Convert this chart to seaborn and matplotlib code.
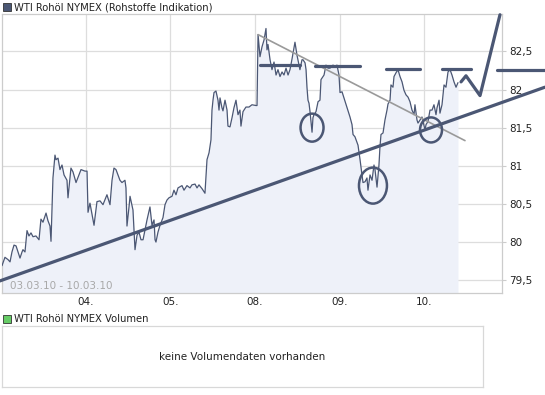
import numpy as np
import matplotlib
matplotlib.use('Agg')
import matplotlib.pyplot as plt
from matplotlib.patches import Rectangle, Ellipse
import seaborn as sns

# intraday prices, x in trading days (0 = 03.03., 1 = 04.03., ...)
t_03 = [0.006, 0.041, 0.077, 0.101, 0.124, 0.148, 0.172, 0.195, 0.219, 0.243, 0.254, 0.278, 0.302, 0.325,
        0.349, 0.373, 0.408, 0.444, 0.467, 0.491, 0.527, 0.550, 0.574, 0.586, 0.609, 0.633, 0.645, 0.669,
        0.692, 0.716, 0.740, 0.775, 0.787, 0.822, 0.846, 0.882, 0.917, 0.941, 0.988, 1.012]
p_03 = [79.69, 79.80, 79.77, 79.74, 79.87, 79.96, 79.95, 79.87, 79.79, 79.87, 79.90, 79.87, 80.15, 80.08,
        80.12, 80.07, 80.08, 80.03, 80.30, 80.26, 80.38, 80.28, 80.21, 80.01, 80.84, 81.14, 81.08, 81.10,
        80.95, 81.01, 80.88, 80.81, 80.58, 80.97, 80.92, 80.78, 80.88, 80.95, 80.93, 80.93]

t_04 = [1.024, 1.047, 1.095, 1.130, 1.166, 1.201, 1.248, 1.284, 1.308, 1.331, 1.355, 1.402, 1.426, 1.461,
        1.473, 1.485, 1.509, 1.521, 1.556, 1.568, 1.580, 1.604, 1.627, 1.651, 1.675, 1.698, 1.722, 1.757,
        1.781, 1.805, 1.817, 1.828, 1.852, 1.876, 1.911, 1.935, 1.958]
p_04 = [80.39, 80.51, 80.22, 80.53, 80.54, 80.49, 80.62, 80.49, 80.81, 80.97, 80.95, 80.81, 80.78, 80.81,
        80.71, 80.21, 80.46, 80.60, 80.42, 80.16, 79.90, 80.09, 80.13, 80.03, 80.03, 80.16, 80.29, 80.46,
        80.22, 80.29, 80.03, 80.00, 80.13, 80.22, 80.32, 80.49, 80.55]

t_05 = [1.982, 2.018, 2.041, 2.065, 2.089, 2.136, 2.160, 2.195, 2.231, 2.254, 2.290, 2.314, 2.337, 2.373,
        2.408, 2.432, 2.456, 2.479, 2.491, 2.503, 2.515, 2.538, 2.562, 2.574, 2.586, 2.609, 2.621, 2.645,
        2.669, 2.680, 2.704, 2.728, 2.751, 2.775, 2.799, 2.822, 2.834, 2.858, 2.893, 2.929, 2.964, 3.012]
p_05 = [80.58, 80.60, 80.68, 80.62, 80.71, 80.74, 80.68, 80.74, 80.71, 80.75, 80.76, 80.71, 80.75, 80.70,
        80.64, 81.08, 81.17, 81.34, 81.73, 81.86, 81.96, 81.98, 81.86, 81.73, 81.89, 81.76, 81.72, 81.86,
        81.73, 81.52, 81.51, 81.63, 81.76, 81.86, 81.67, 81.73, 81.52, 81.71, 81.77, 81.77, 81.80, 81.79]

t_08 = [3.024, 3.036, 3.059, 3.083, 3.107, 3.130, 3.142, 3.154, 3.178, 3.201, 3.225, 3.249, 3.272, 3.296,
        3.320, 3.343, 3.367, 3.391, 3.414, 3.438, 3.473, 3.497, 3.532, 3.556, 3.568, 3.592, 3.604, 3.615,
        3.627, 3.639, 3.651, 3.675, 3.686, 3.698, 3.722, 3.746, 3.769, 3.781, 3.805, 3.817, 3.840, 3.864,
        3.888, 3.923, 3.947, 3.970]
p_08 = [81.79, 82.72, 82.43, 82.56, 82.65, 82.80, 82.52, 82.59, 82.39, 82.26, 82.36, 82.19, 82.26, 82.17,
        82.23, 82.19, 82.28, 82.19, 82.26, 82.40, 82.62, 82.45, 82.26, 82.39, 82.39, 82.35, 82.26, 82.03,
        81.86, 81.82, 81.71, 81.44, 81.63, 81.67, 81.71, 81.84, 81.86, 82.13, 82.17, 82.19, 82.32, 82.28,
        82.28, 82.32, 82.30, 82.32]

t_09 = [3.994, 4.006, 4.030, 4.053, 4.089, 4.124, 4.148, 4.160, 4.183, 4.219, 4.243, 4.266, 4.278, 4.302,
        4.325, 4.337, 4.361, 4.385, 4.408, 4.420, 4.444, 4.456, 4.467, 4.479, 4.491, 4.515, 4.538, 4.562,
        4.574, 4.598, 4.609, 4.633, 4.645, 4.669, 4.692, 4.716, 4.740, 4.763, 4.787, 4.811, 4.834, 4.858,
        4.882, 4.893, 4.917, 4.929, 4.953]
p_09 = [82.19, 81.96, 81.97, 81.89, 81.76, 81.64, 81.54, 81.41, 81.38, 81.27, 81.08, 80.88, 80.78, 80.79,
        80.84, 80.68, 80.88, 80.81, 81.01, 80.95, 80.72, 80.88, 81.01, 81.25, 81.41, 81.43, 81.60, 81.73,
        81.81, 81.86, 82.06, 82.03, 82.17, 82.22, 82.26, 82.17, 82.10, 81.99, 81.93, 81.90, 81.84, 81.73,
        81.67, 81.80, 81.60, 81.56, 81.60]

t_10 = [4.976, 5.012, 5.024, 5.047, 5.071, 5.095, 5.118, 5.142, 5.154, 5.178, 5.189, 5.213, 5.237, 5.260,
        5.284, 5.308, 5.331, 5.355, 5.379, 5.402]
p_10 = [81.64, 81.47, 81.54, 81.58, 81.73, 81.73, 81.80, 81.67, 81.76, 81.86, 81.69, 81.80, 82.06, 82.03,
        82.23, 82.26, 82.19, 82.10, 82.03, 82.09]

day_ticks = [1, 2, 3, 4, 5]
day_labels = ['04.', '05.', '08.', '09.', '10.']
price_ticks = [79.5, 80, 80.5, 81, 81.5, 82, 82.5]

# hand-drawn analysis marks (time, price)
support_t = [-0.02, 6.43]
support_p = [79.49, 82.03]
falling_t = [3.036, 5.485]
falling_p = [82.72, 81.33]
resist_t = [(3.059, 3.532), (3.71, 4.243), (4.55, 4.953), (5.213, 5.556), (5.864, 6.432)]
resist_p = [82.32, 82.31, 82.27, 82.27, 82.26]
zigzag_t = [5.438, 5.497, 5.663, 5.899]
zigzag_p = [82.10, 82.18, 81.92, 82.98]
circle_t = [3.675, 4.396, 5.083]
circle_p = [81.50, 80.74, 81.47]
circle_w = [0.272, 0.331, 0.26]
circle_h = [0.367, 0.472, 0.328]

line_col = '#4b5774'
fill_col = '#eef1f9'
grid_col = '#dddddd'

times = np.array(t_03 + t_04 + t_05 + t_08 + t_09 + t_10)
prices = np.array(p_03 + p_04 + p_05 + p_08 + p_09 + p_10)

sns.set_style('white')
plt.rcParams['font.family'] = ['DejaVu Sans']

W, H = 545, 395
fig = plt.figure(figsize=(W / 100, H / 100), dpi=100)

ax = fig.add_axes([2 / W, 1 - 293 / H, 500 / W, 279 / H])
ymin, ymax = 79.332, 82.99
ax.fill_between(times, prices, ymin, color=fill_col, lw=0, zorder=1)
sns.lineplot(x=times, y=prices, ax=ax, color=line_col, lw=0.9, sort=False, estimator=None, zorder=3)

ax.set_xlim(0.006, 5.923)
ax.set_ylim(ymin, ymax)
ax.set_xticks(day_ticks)
ax.set_xticklabels(day_labels)
ax.set_yticks(price_ticks)
ax.set_yticklabels([f'{v:g}'.replace('.', ',') for v in price_ticks])
ax.yaxis.tick_right()
ax.tick_params(axis='y', labelsize=7.5, length=3, color='#cccccc', pad=2, labelcolor='#222222')
ax.tick_params(axis='x', labelsize=7.5, length=0, pad=3, labelcolor='#222222')
ax.grid(True, color=grid_col, lw=0.9, zorder=0)
ax.set_axisbelow(True)
for s in ax.spines.values():
    s.set_color('#cccccc')
    s.set_linewidth(0.9)
ax.set_xlabel('')
ax.set_ylabel('')

ax.text(0.016, 0.025, '03.03.10 - 10.03.10', transform=ax.transAxes, fontsize=7.5,
        color='#a8a8a8', va='center', ha='left', zorder=4)

# analysis drawings
ax.plot(support_t, support_p, color=line_col, lw=2.3, clip_on=False, zorder=5)
ax.plot(falling_t, falling_p, color='#9a9a9a', lw=1.2, clip_on=False, zorder=4)
for (t0, t1), p in zip(resist_t, resist_p):
    ax.plot([t0, t1], [p, p], color=line_col, lw=2.3, clip_on=False, zorder=5)
ax.plot(zigzag_t, zigzag_p, color=line_col, lw=2.3, clip_on=False, zorder=5)
for ct, cp, cw, ch in zip(circle_t, circle_p, circle_w, circle_h):
    ax.add_patch(Ellipse((ct, cp), cw, ch, fill=False, ec=line_col, lw=1.8, zorder=5, clip_on=False))

# header
fig.patches.append(Rectangle((3 / W, 1 - 11 / H), 8 / W, 8 / H, transform=fig.transFigure,
                             fc=line_col, ec='#333333', lw=0.6))
fig.text(14 / W, 1 - 7 / H, 'WTI Rohöl NYMEX (Rohstoffe Indikation)', fontsize=7.2,
         va='center', ha='left', color='#222222')

# volume panel
fig.patches.append(Rectangle((3 / W, 1 - 323 / H), 8 / W, 8 / H, transform=fig.transFigure,
                             fc='#66cc66', ec='#333333', lw=0.6))
fig.text(14 / W, 1 - 319 / H, 'WTI Rohöl NYMEX Volumen', fontsize=7.2,
         va='center', ha='left', color='#222222')
vax = fig.add_axes([2 / W, 1 - 387 / H, 481 / W, 61 / H])
vax.set_xticks([])
vax.set_yticks([])
for s in vax.spines.values():
    s.set_color('#d8d8d8')
    s.set_linewidth(0.9)
vax.text(0.5, 0.5, 'keine Volumendaten vorhanden', transform=vax.transAxes, fontsize=7.5,
         ha='center', va='center', color='#222222')

fig.savefig('out.png', dpi=100)
